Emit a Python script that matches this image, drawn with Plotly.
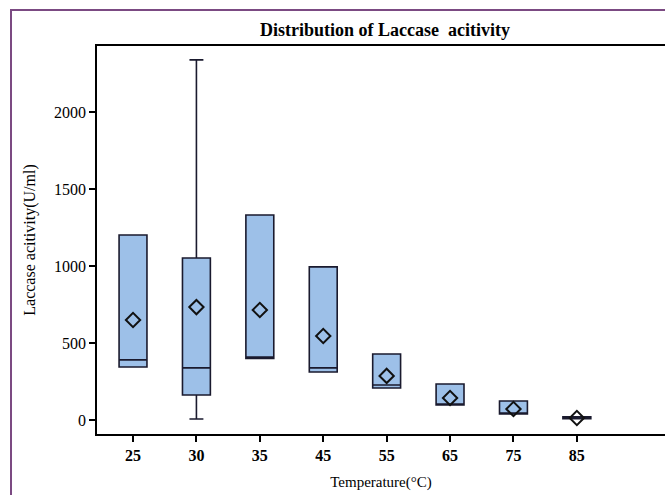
import plotly.graph_objects as go

categories = ["25", "30", "35", "45", "55", "65", "75", "85"]
q1 = [344, 162, 400, 312, 208, 97, 39, 8]
median = [390, 338, 409, 338, 227, 100, 42, 13]
q3 = [1201, 1052, 1331, 994, 428, 234, 123, 20]
lowerfence = [344, 6, 400, 312, 208, 97, 39, 8]
upperfence = [1201, 2338, 1331, 994, 428, 234, 123, 20]
means = [649, 733, 714, 545, 286, 143, 71, 13]

serif = "Liberation Serif, Times New Roman, serif"

fig = go.Figure()
fig.add_trace(go.Box(
    x=categories, q1=q1, median=median, q3=q3,
    lowerfence=lowerfence, upperfence=upperfence,
    fillcolor="#9dc0e8", line=dict(color="#1a1a2e", width=1.6),
    whiskerwidth=0.5, boxpoints=False, showlegend=False, width=0.44,
))
fig.add_trace(go.Scatter(
    x=categories, y=means, mode="markers",
    marker=dict(symbol="diamond-open", size=11, color="#111111", line=dict(width=2)),
    showlegend=False,
))

fig.update_layout(
    width=665, height=495,
    margin=dict(l=97, r=0, t=46, b=61),
    paper_bgcolor="white", plot_bgcolor="white",
    title=dict(text="<b>Distribution of Laccase  acitivity</b>", x=0.579, xanchor="center",
               y=0.939, yanchor="middle", font=dict(family=serif, size=18, color="black")),
    font=dict(family=serif, color="black"),
    shapes=[dict(type="rect", xref="paper", yref="paper",
                 x0=-0.1514, y0=-0.4, x1=1.2, y1=1.0928,
                 line=dict(color="#7b4a82", width=2), layer="below")],
)
fig.update_xaxes(
    type="category", range=[-0.568, 8.39],
    showline=True, linecolor="black", linewidth=1.5, mirror=True,
    ticks="outside", ticklen=6, tickcolor="black", tickwidth=1.5,
    tickfont=dict(family=serif, size=16, color="black"),
    tickprefix="<b>", ticksuffix="</b>",
    showgrid=False, zeroline=False,
    title=dict(text="Temperature(°C)", font=dict(family=serif, size=15, color="black"), standoff=14),
)
fig.update_yaxes(
    range=[-91, 2428], tickvals=[0, 500, 1000, 1500, 2000],
    showline=True, linecolor="black", linewidth=1.5,
    ticks="outside", ticklen=6, tickcolor="black", tickwidth=1.5,
    tickfont=dict(family=serif, size=16, color="black"),
    tickprefix="<b>", ticksuffix="</b>",
    showgrid=False, zeroline=False,
    title=dict(text="Laccase acitivity(U/ml)", font=dict(family=serif, size=16, color="black"), standoff=14),
)

fig.write_html("out.html")
